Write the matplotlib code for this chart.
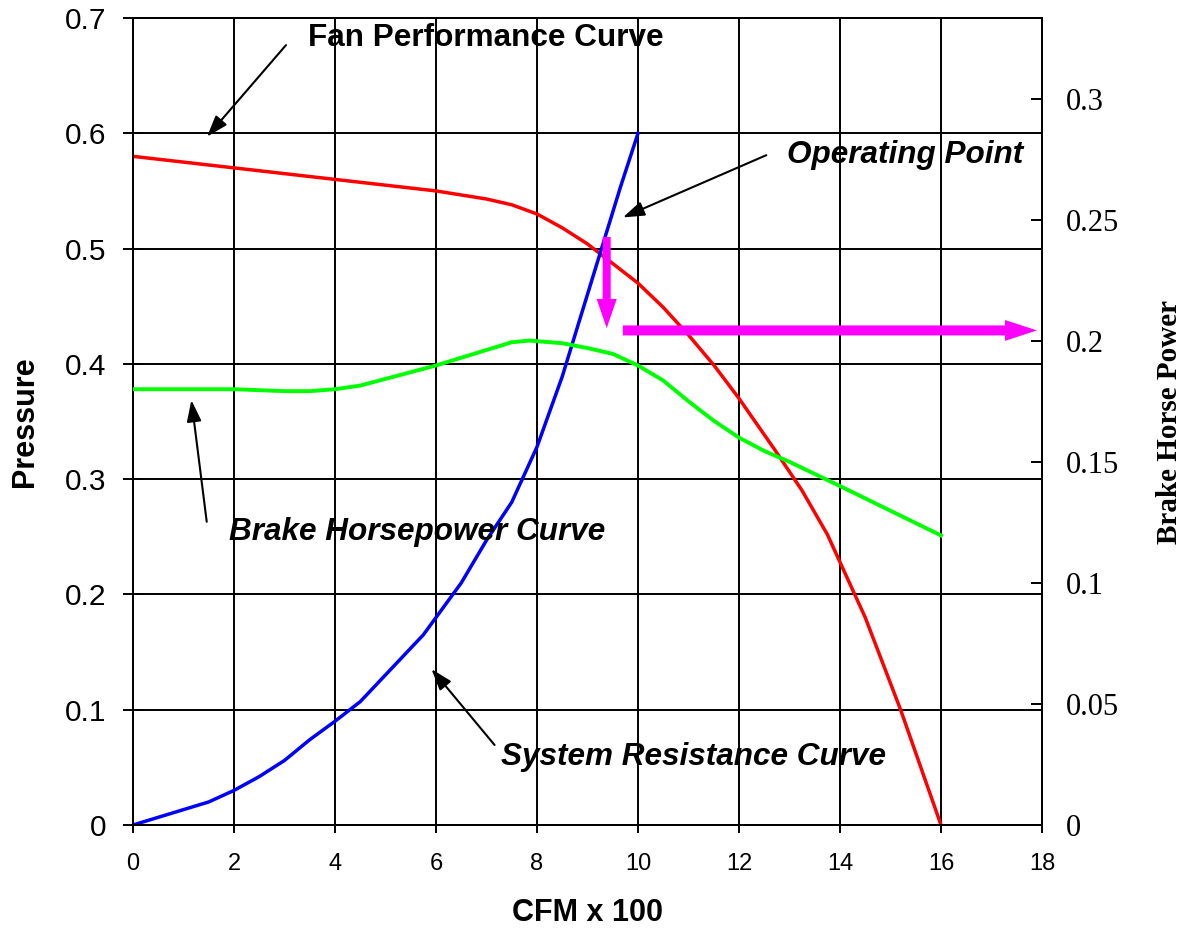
import numpy as np
import matplotlib
matplotlib.use('Agg')
import matplotlib.pyplot as plt

plt.rcParams['font.family'] = ['Liberation Sans', 'DejaVu Sans']

# Fan performance curve (pressure)
fan_cfm = [0, 2, 4, 6, 7, 7.5, 8, 8.5, 9, 9.5, 10, 10.5, 11, 11.5, 12, 12.7, 13.25, 13.75, 14.5, 15.2, 16]
fan_pressure = [0.58, 0.57, 0.56, 0.55, 0.543, 0.538, 0.530, 0.518, 0.504, 0.487, 0.470, 0.449,
                0.425, 0.399, 0.370, 0.326, 0.290, 0.252, 0.180, 0.100, 0.0]

# System resistance curve (pressure)
sys_cfm = [0, 1.5, 2, 2.5, 3, 3.5, 4, 4.5, 5.75, 6.5, 7.0, 7.5, 7.75, 8.0, 8.5, 9.65, 10]
sys_pressure = [0, 0.020, 0.030, 0.042, 0.056, 0.074, 0.090, 0.107, 0.165, 0.210, 0.247,
                0.280, 0.304, 0.328, 0.389, 0.553, 0.600]

# Brake horsepower curve (right axis)
bhp_cfm = [0, 2, 3, 3.5, 4, 4.5, 6, 7.5, 7.85, 8.5, 9, 9.5, 10, 10.5, 11, 11.5, 12, 12.5, 13, 14, 16]
bhp = [0.180, 0.180, 0.1792, 0.1792, 0.180, 0.1815, 0.1898, 0.1994, 0.2001, 0.199, 0.197,
       0.1946, 0.1898, 0.1836, 0.175, 0.167, 0.160, 0.1545, 0.150, 0.140, 0.1196]

x_ticks = list(range(0, 19, 2))
p_ticks = [0, 0.1, 0.2, 0.3, 0.4, 0.5, 0.6, 0.7]
p_labels = ['0', '0.1', '0.2', '0.3', '0.4', '0.5', '0.6', '0.7']
bhp_ticks = [0, 0.05, 0.1, 0.15, 0.2, 0.25, 0.3]
bhp_labels = ['0', '0.05', '0.1', '0.15', '0.2', '0.25', '0.3']

fig = plt.figure(figsize=(11.82, 9.30), dpi=100)
ax1 = fig.add_axes([133 / 1182, 1 - 825 / 930, 909 / 1182, 807 / 930])
ax2 = ax1.twinx()

ax1.plot(fan_cfm, fan_pressure, color='#ff0000', lw=2.5, zorder=3)
ax1.plot(sys_cfm, sys_pressure, color='#0000ff', lw=2.5, zorder=3)
ax2.plot(bhp_cfm, bhp, color='#00ff00', lw=2.8, zorder=3)

ax1.set_xlim(0, 18)
ax1.set_ylim(0, 0.7)
ax2.set_ylim(0, 0.7 / 2.1)

ax1.set_xticks(x_ticks)
ax1.set_xticklabels([str(t) for t in x_ticks])
ax1.set_yticks(p_ticks)
ax1.set_yticklabels(p_labels)
ax2.set_yticks(bhp_ticks)
ax2.set_yticklabels(bhp_labels, fontfamily=['Liberation Serif', 'DejaVu Serif'])

ax1.grid(True, color='black', lw=1.4)
for ax in (ax1, ax2):
    for s in ax.spines.values():
        s.set_color('black')
        s.set_linewidth(1.4)

ax1.tick_params(axis='y', direction='inout', length=15, width=1.4, pad=12, labelsize=21.5)
ax1.tick_params(axis='x', direction='out', length=6, width=1.4, pad=14, labelsize=17)
ax2.tick_params(axis='y', direction='in', length=8, width=1.4, pad=17, labelsize=22)

ax1.set_xlabel('CFM x 100', fontsize=22, fontweight='bold')
ax1.xaxis.set_label_coords(0.5, -0.109)
ax1.xaxis.label.set_va('center')
ax1.set_ylabel('Pressure', fontsize=22, fontweight='bold')
ax1.yaxis.set_label_coords(-0.119, 0.5)
ax1.yaxis.label.set_va('center')
ax2.set_ylabel('Brake Horse Power', fontsize=21, fontweight='bold',
               fontfamily=['Liberation Serif', 'DejaVu Serif'])
ax2.yaxis.set_label_coords(1.1406, 0.5)
ax2.yaxis.label.set_va('center')

# magenta arrows (operating point -> BHP)
ax2.annotate('', xy=(9.38, 0.431), xytext=(9.38, 0.51),
             xycoords=ax1.transData, textcoords=ax1.transData,
             arrowprops=dict(arrowstyle='simple,head_length=21,head_width=14.5,tail_width=5.8',
                             mutation_scale=1, color='#ff00ff', lw=0, shrinkA=0, shrinkB=0))
ax2.annotate('', xy=(17.9, 0.429), xytext=(9.70, 0.429),
             xycoords=ax1.transData, textcoords=ax1.transData,
             arrowprops=dict(arrowstyle='simple,head_length=23,head_width=15,tail_width=7.2',
                             mutation_scale=1, color='#ff00ff', lw=0, shrinkA=0, shrinkB=0))

# black annotation arrows and labels
arrow_kw = dict(arrowstyle='-|>,head_length=0.65,head_width=0.22', mutation_scale=20,
                color='black', lw=1.5, shrinkA=0, shrinkB=0)
notes = [
    ('Fan Performance Curve', 'normal', (3.47, 0.676), (1.465, 0.597), (3.03, 0.6765)),
    ('Operating Point', 'italic', (12.96, 0.574), (9.70, 0.527), (12.54, 0.581)),
    ('Brake Horsepower Curve', 'italic', (1.91, 0.247), (1.156, 0.3686), (1.46, 0.263)),
    ('System Resistance Curve', 'italic', (7.29, 0.052), (5.91, 0.1353), (7.16, 0.0694)),
]
for label, style, pos, tip, start in notes:
    ax2.annotate('', xy=tip, xytext=start, xycoords=ax1.transData,
                 textcoords=ax1.transData, arrowprops=arrow_kw)
    ax2.text(pos[0], pos[1], label, transform=ax1.transData, fontsize=22.7,
             fontweight='bold', fontstyle=style, ha='left', va='baseline')

fig.savefig('out.png', dpi=100)
